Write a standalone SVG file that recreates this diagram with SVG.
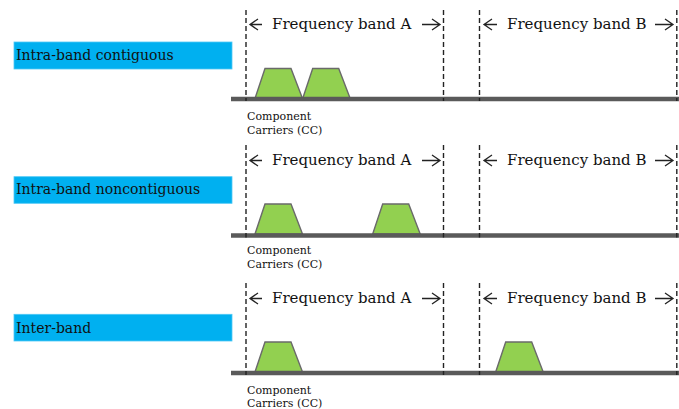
<svg xmlns="http://www.w3.org/2000/svg" width="679" height="409" viewBox="0 0 679 409">
<defs>
<style>
.lbl{fill:#00B0F0;stroke:#4fc8f5;stroke-width:0.8}
.lt{font-family:"DejaVu Serif","Liberation Serif",serif;font-size:14px;fill:#111}
.band{font-family:"DejaVu Serif","Liberation Serif",serif;font-size:15px;fill:#111}
.cc{font-family:"DejaVu Serif","Liberation Serif",serif;font-size:11px;fill:#111}
.axis{stroke:#5a5a5a;stroke-width:4.5}
.dash{stroke:#222;stroke-width:1.4;stroke-dasharray:5 3;fill:none}
.arr{stroke:#222;stroke-width:1.3;fill:none}
.car{fill:#92D050;stroke:#6a6a6a;stroke-width:1.4;stroke-linejoin:miter}
</style>
<g id="trap"><polygon class="car" points="0,0 10,-30 36,-30 47.5,0"/></g>
<g id="bands">
<text class="band" x="272" y="29">Frequency band A</text>
<text class="band" x="507" y="29">Frequency band B</text>
</g>
</defs>

<!-- Row 1 -->
<g id="row1-label"><rect class="lbl" x="14" y="42" width="218" height="27"/><text class="lt" x="16" y="60">Intra-band contiguous</text></g>
<g id="row1-carriers">
<use href="#trap" transform="translate(255,98.5)"/>
<use href="#trap" transform="translate(302.7,98.5)"/>
<text class="cc" x="247" y="120">Component</text>
<text class="cc" x="247" y="134">Carriers (CC)</text>
</g>
<g id="row1-bands"><use href="#bands"/></g>
<g id="row1-axis">
<line class="axis" x1="231" y1="99" x2="679" y2="99"/>
<line class="dash" x1="246" y1="10" x2="246" y2="101"/>
<line class="dash" x1="443.5" y1="10" x2="443.5" y2="101"/>
<line class="dash" x1="479.5" y1="10" x2="479.5" y2="101"/>
<line class="dash" x1="676.8" y1="10" x2="676.8" y2="101"/>
</g>

<!-- Row 2 -->
<g id="row2-label"><rect class="lbl" x="14" y="176.7" width="218" height="26.6"/><text class="lt" x="16" y="194">Intra-band noncontiguous</text></g>
<g id="row2-carriers">
<use href="#trap" transform="translate(255,234)"/>
<use href="#trap" transform="translate(372.7,234)"/>
<text class="cc" x="247" y="253.5">Component</text>
<text class="cc" x="247" y="268">Carriers (CC)</text>
</g>
<g id="row2-bands"><use href="#bands" transform="translate(0,136)"/></g>
<g id="row2-axis">
<line class="axis" x1="231" y1="235.5" x2="679" y2="235.5"/>
<line class="dash" x1="246" y1="145" x2="246" y2="237.5"/>
<line class="dash" x1="443.5" y1="145" x2="443.5" y2="237.5"/>
<line class="dash" x1="479.5" y1="145" x2="479.5" y2="237.5"/>
<line class="dash" x1="676.8" y1="145" x2="676.8" y2="237.5"/>
</g>

<!-- Row 3 -->
<g id="row3-label"><rect class="lbl" x="14" y="314.3" width="218" height="26.7"/><text class="lt" x="16" y="332.7">Inter-band</text></g>
<g id="row3-carriers">
<use href="#trap" transform="translate(255,372)"/>
<use href="#trap" transform="translate(495.7,372)"/>
<text class="cc" x="247" y="393.5">Component</text>
<text class="cc" x="247" y="407">Carriers (CC)</text>
</g>
<g id="row3-bands"><use href="#bands" transform="translate(0,274)"/></g>
<g id="row3-axis">
<line class="axis" x1="231" y1="373" x2="679" y2="373"/>
<line class="dash" x1="246" y1="283" x2="246" y2="375"/>
<line class="dash" x1="443.5" y1="283" x2="443.5" y2="375"/>
<line class="dash" x1="479.5" y1="283" x2="479.5" y2="375"/>
<line class="dash" x1="676.8" y1="283" x2="676.8" y2="375"/>
</g>

<!-- connectors: band extent arrows -->
<g id="connectors">
<g id="arrows-row1">
<path class="arr" d="M258,19 L250,24.5 L258,30 M250,24.5 H262"/>
<path class="arr" d="M432,19 L440,24.5 L432,30 M440,24.5 H422"/>
<path class="arr" d="M492,19 L484,24.5 L492,30 M484,24.5 H497"/>
<path class="arr" d="M665,19 L673,24.5 L665,30 M673,24.5 H655"/>
</g>
<g id="arrows-row2" transform="translate(0,136)">
<path class="arr" d="M258,19 L250,24.5 L258,30 M250,24.5 H262"/>
<path class="arr" d="M432,19 L440,24.5 L432,30 M440,24.5 H422"/>
<path class="arr" d="M492,19 L484,24.5 L492,30 M484,24.5 H497"/>
<path class="arr" d="M665,19 L673,24.5 L665,30 M673,24.5 H655"/>
</g>
<g id="arrows-row3" transform="translate(0,274)">
<path class="arr" d="M258,19 L250,24.5 L258,30 M250,24.5 H262"/>
<path class="arr" d="M432,19 L440,24.5 L432,30 M440,24.5 H422"/>
<path class="arr" d="M492,19 L484,24.5 L492,30 M484,24.5 H497"/>
<path class="arr" d="M665,19 L673,24.5 L665,30 M673,24.5 H655"/>
</g>
</g>
</svg>
